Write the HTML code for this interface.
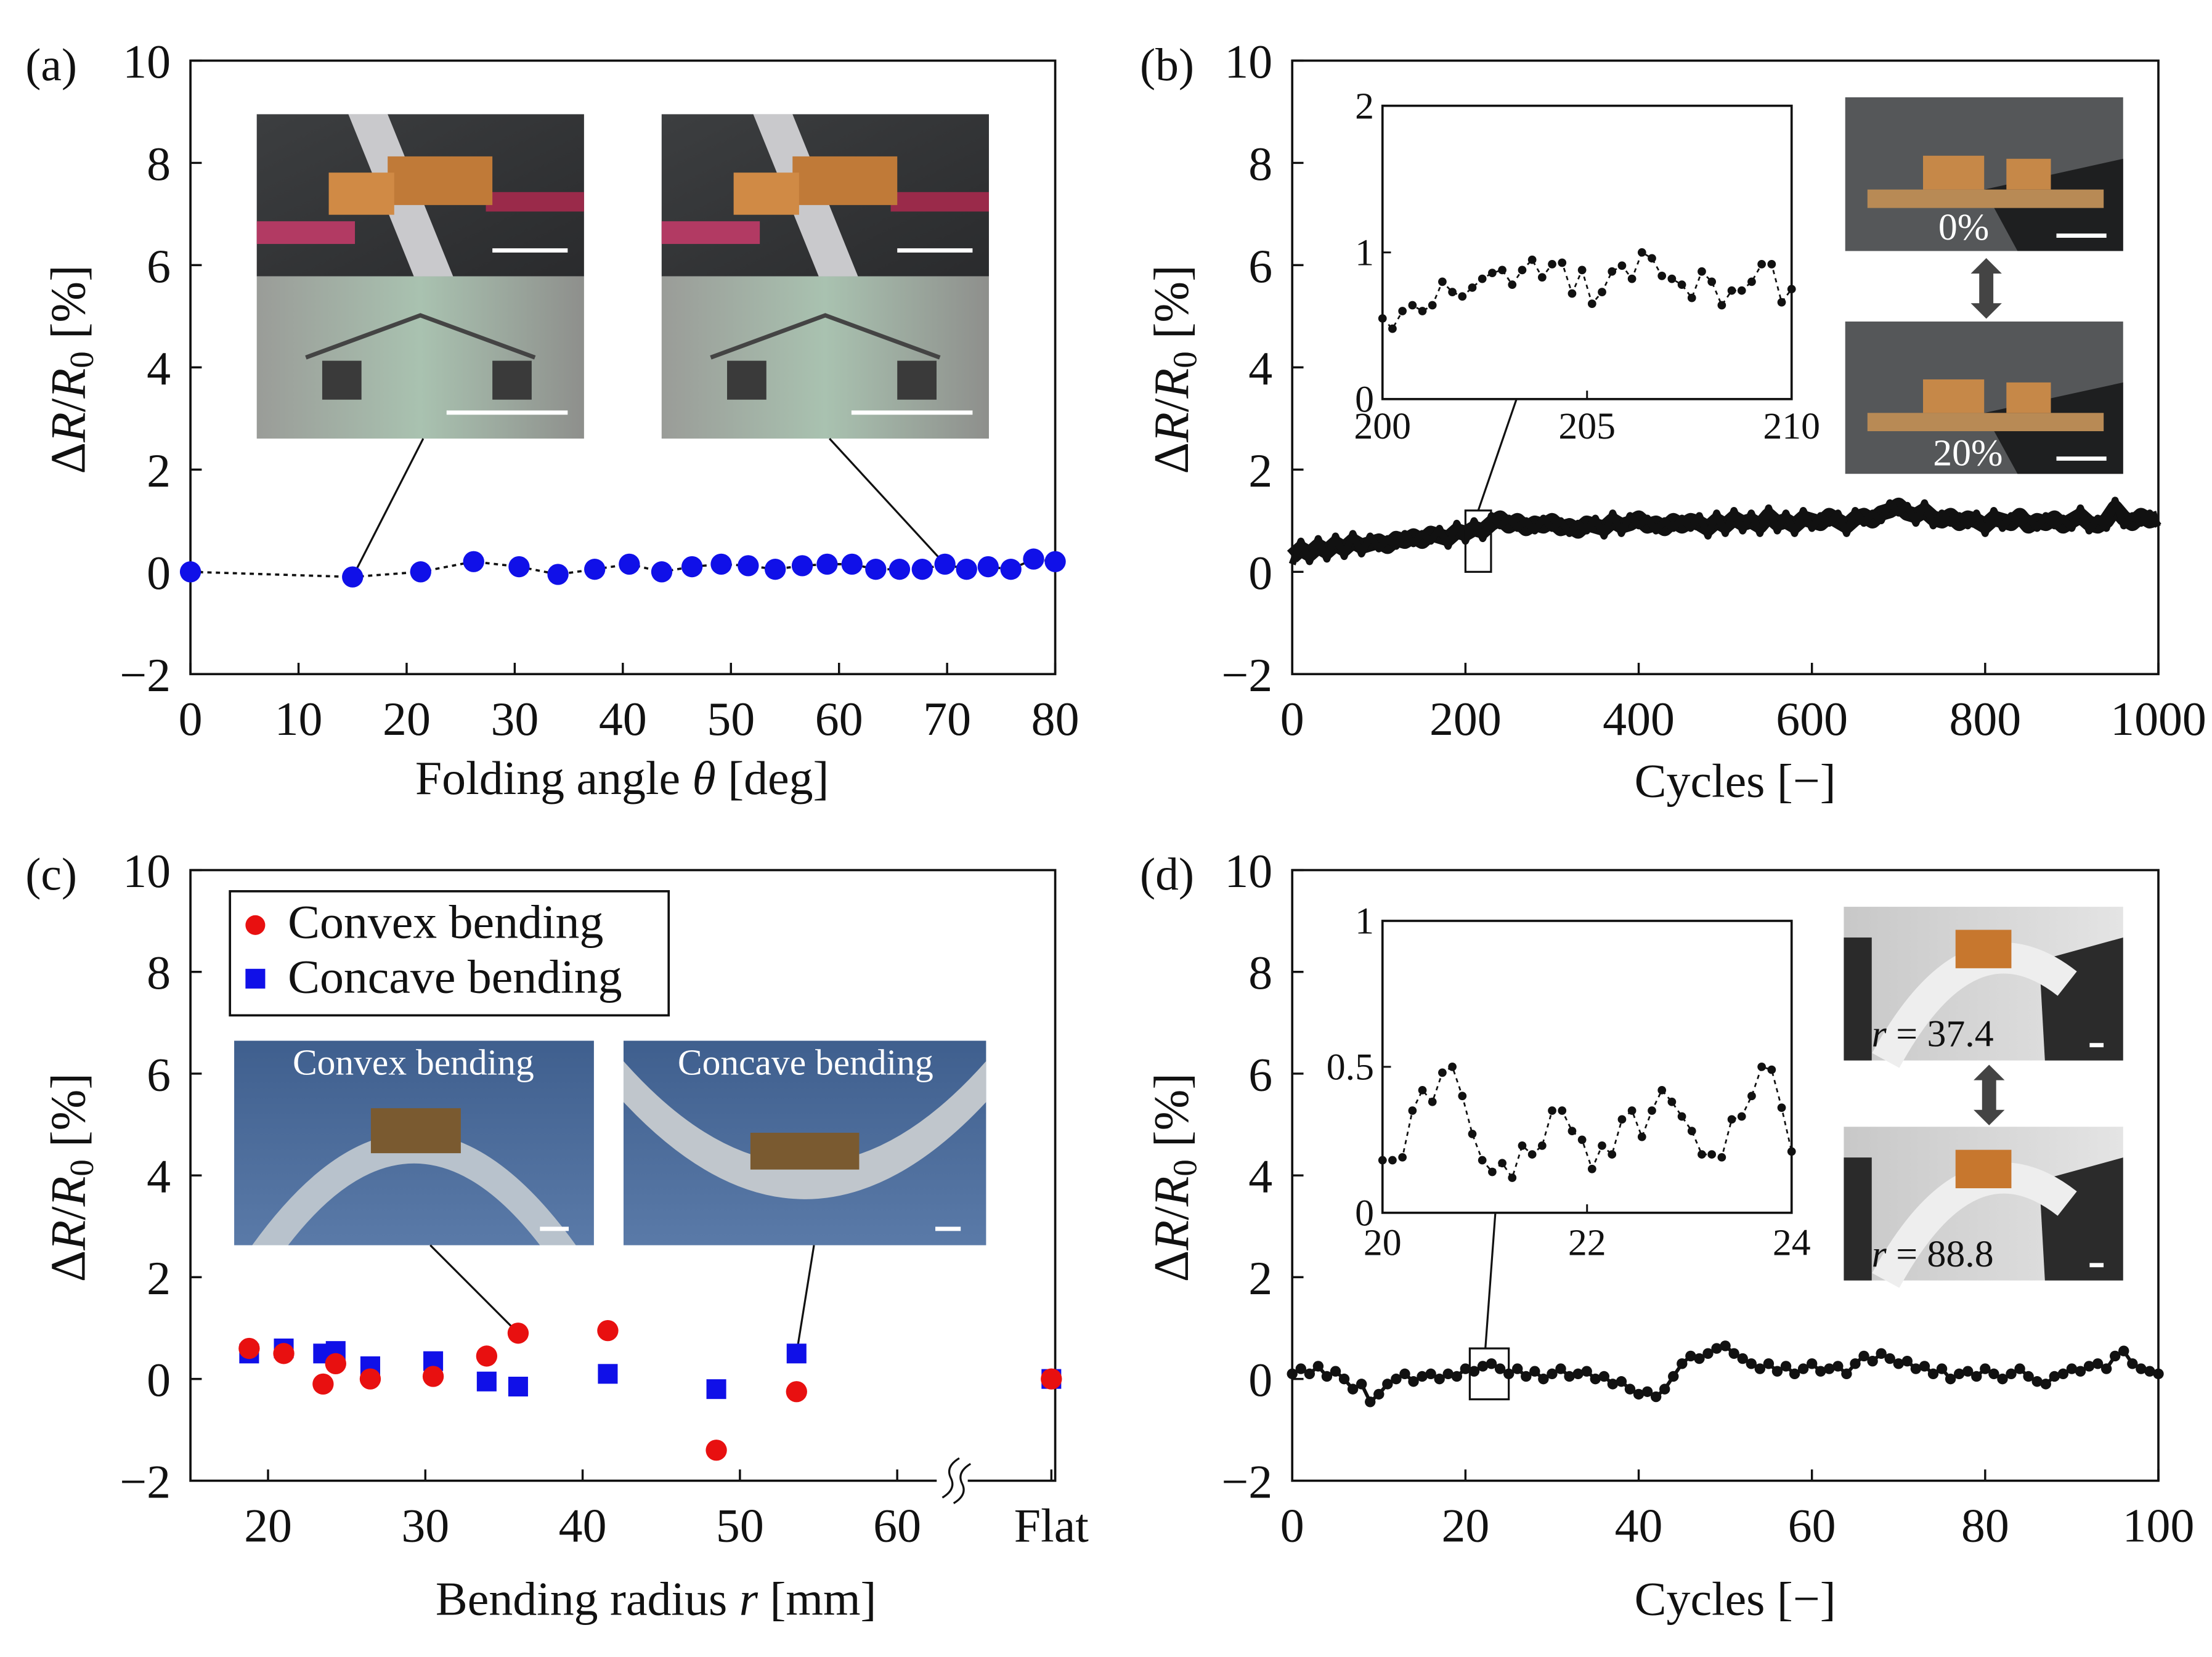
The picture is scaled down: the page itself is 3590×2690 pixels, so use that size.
<!DOCTYPE html>
<html><head><meta charset="utf-8"><style>
html,body{margin:0;padding:0;background:#fff}
svg{display:block}
text{font-family:"Liberation Serif","DejaVu Serif",serif;fill:#111}
</style></head><body>
<svg id="fig" xmlns="http://www.w3.org/2000/svg" width="3590" height="2690" viewBox="0 0 1568 1175" preserveAspectRatio="none">
<defs>
<linearGradient id="gDark" x1="0" y1="0" x2="1" y2="1"><stop offset="0" stop-color="#3c3e40"/><stop offset="1" stop-color="#2a2b2d"/></linearGradient>
<linearGradient id="gSide" x1="0" y1="0" x2="1" y2="0"><stop offset="0" stop-color="#9a9c98"/><stop offset="0.5" stop-color="#a9c2b0"/><stop offset="1" stop-color="#8e8f8c"/></linearGradient>
<linearGradient id="gBlue" x1="0" y1="0" x2="0" y2="1"><stop offset="0" stop-color="#3f5f8e"/><stop offset="1" stop-color="#5a7aa8"/></linearGradient>
<linearGradient id="gGray" x1="0" y1="0" x2="1" y2="0"><stop offset="0" stop-color="#c8c8c8"/><stop offset="1" stop-color="#e4e4e4"/></linearGradient>
</defs>
</svg>
<script>
// ---------- data ----------
const aAngles=[0,15,21.3,26.2,30.4,34,37.4,40.6,43.6,46.4,49.1,51.6,54.1,56.6,58.9,61.2,63.4,65.6,67.7,69.8,71.8,73.8,75.9,78,80];
const aValues=[0,-0.1,0,0.2,0.1,-0.05,0.05,0.15,0.0,0.1,0.15,0.12,0.05,0.12,0.15,0.15,0.05,0.05,0.05,0.15,0.05,0.1,0.05,0.25,0.2];
const bValues=[0.3,0.45,0.35,0.5,0.4,0.55,0.45,0.6,0.5,0.55,0.6,0.5,0.65,0.6,0.7,0.6,0.75,0.7,0.65,0.8,0.75,0.85,0.8,0.95,1.05,0.9,1.0,0.85,0.95,0.9,1.0,0.85,0.9,0.8,0.95,0.9,0.85,1.0,0.9,0.95,1.05,0.9,0.95,0.85,1.0,0.9,1.0,0.95,0.85,1.0,0.9,1.05,0.95,1.0,0.9,1.1,0.95,1.0,0.9,1.05,1.0,0.95,1.1,1.0,0.9,1.05,1.1,1.0,1.15,1.2,1.3,1.15,1.1,1.2,1.05,1.0,1.1,0.95,1.05,1.0,0.9,1.05,1.0,0.95,1.1,0.9,1.0,0.95,1.05,0.9,1.0,1.1,0.95,0.9,1.0,1.25,1.05,0.95,1.1,1.0,1.05];
const bInsetValues=[0.55,0.48,0.6,0.64,0.6,0.64,0.8,0.73,0.7,0.76,0.82,0.86,0.88,0.78,0.88,0.95,0.83,0.92,0.93,0.72,0.88,0.65,0.73,0.87,0.91,0.82,1.0,0.96,0.84,0.82,0.78,0.69,0.87,0.8,0.64,0.74,0.74,0.8,0.92,0.92,0.66,0.75];
const cRadii=[18.8,21,23.5,24.3,26.5,30.5,33.9,35.9,41.6,48.5,53.6,69.8];
const cConvex=[0.6,0.5,-0.1,0.3,0,0.05,0.45,0.9,0.95,-1.4,-0.25,0];
const cConcave=[0.5,0.6,0.5,0.55,0.25,0.35,-0.05,-0.15,0.1,-0.2,0.5,0];
const cTickVals=[20,30,40,50,60,69.8];
const cTickLabels=["20","30","40","50","60","Flat"];
const dValues=[0.1,0.2,0.1,0.25,0.05,0.15,0.0,-0.2,-0.1,-0.45,-0.3,-0.1,0.0,0.1,-0.05,0.05,0.1,0.0,0.1,0.05,0.2,0.15,0.25,0.3,0.2,0.1,0.2,0.05,0.15,0.0,0.1,0.2,0.05,0.1,0.15,0.0,0.05,-0.1,-0.05,-0.2,-0.3,-0.25,-0.35,-0.2,0.05,0.3,0.45,0.4,0.5,0.6,0.65,0.5,0.4,0.3,0.2,0.3,0.15,0.25,0.1,0.2,0.3,0.15,0.2,0.25,0.1,0.3,0.45,0.35,0.5,0.4,0.3,0.35,0.2,0.25,0.1,0.2,0.0,0.1,0.15,0.05,0.2,0.1,0.0,0.1,0.2,0.05,-0.05,-0.1,0.05,0.1,0.2,0.15,0.25,0.3,0.2,0.45,0.55,0.3,0.2,0.15,0.1];
const dInsetValues=[0.18,0.18,0.19,0.35,0.42,0.38,0.48,0.5,0.4,0.27,0.18,0.14,0.17,0.12,0.23,0.2,0.23,0.35,0.35,0.28,0.25,0.15,0.23,0.2,0.32,0.35,0.26,0.35,0.42,0.38,0.33,0.28,0.2,0.2,0.19,0.32,0.33,0.4,0.5,0.49,0.36,0.21];
const yTicks=[-2,0,2,4,6,8,10];

// ---------- helpers ----------
const svg=document.getElementById('fig');
const NS='http://www.w3.org/2000/svg';
function mk(tag,attrs,parent,txt){const e=document.createElementNS(NS,tag);for(const k in attrs)e.setAttribute(k,attrs[k]);if(txt!==undefined)e.textContent=txt;(parent||svg).appendChild(e);return e;}
function scale(d0,d1,r0,r1){return v=>r0+(v-d0)/(d1-d0)*(r1-r0);}
function group(name){const g=mk('g',{});return g;}

function axesFrame(g,L,R,T,B,ys,yt,xs,xt,xtl,fs){
  const fr=mk('rect',{x:L,y:T,width:R-L,height:B-T,fill:'none',stroke:'#111','stroke-width':1.6},g);
  
  yt.forEach(v=>{const y=ys(v);mk('line',{x1:L,x2:L+8,y1:y,y2:y,stroke:'#111','stroke-width':1.5},g);
    const t=mk('text',{x:L-14,y:y+12,'font-size':fs,'text-anchor':'end'},g,v<0?'\u2212'+(-v):String(v));
    });
  xt.forEach((v,i)=>{const x=xs(v);mk('line',{x1:x,x2:x,y1:B,y2:B-8,stroke:'#111','stroke-width':1.5},g);
    const t=mk('text',{x:x,y:B+43,'font-size':fs,'text-anchor':'middle'},g,xtl?xtl[i]:String(v));
    });
}
function yTitle(g,x,y){const t=mk('text',{x:x,y:y,'font-size':35,'text-anchor':'middle',transform:`rotate(-90 ${x} ${y})`},g);
  
  t.innerHTML='\u0394<tspan font-style="italic">R</tspan>/<tspan font-style="italic">R</tspan><tspan font-size="24" dy="6">0</tspan><tspan dy="-6">  [%]</tspan>';}
function xTitle(g,x,y,html){const t=mk('text',{x:x,y:y,'font-size':34,'text-anchor':'middle'},g);t.innerHTML=html;
  }
function panelLabel(g,x,y,s){const t=mk('text',{x:x,y:y,'font-size':33},g,s);}
function photo(g,x,y,w,h,kind,name){
  const p=group(name);g.appendChild(p);
  if(kind==='fold'){
    mk('rect',{x:x,y:y,width:w,height:h/2,fill:'url(#gDark)'},p);
    mk('polygon',{points:`${x+w*0.28},${y} ${x+w*0.4},${y} ${x+w*0.6},${y+h/2} ${x+w*0.48},${y+h/2}`,fill:'#c9c9cc'},p);
    mk('rect',{x:x,y:y+h*0.33,width:w*0.3,height:h*0.07,fill:'#b23a63'},p);
    mk('rect',{x:x+w*0.7,y:y+h*0.24,width:w*0.3,height:h*0.06,fill:'#9a2a4a'},p);
    mk('rect',{x:x+w*0.4,y:y+h*0.13,width:w*0.32,height:h*0.15,fill:'#c07a38'},p);
    mk('rect',{x:x+w*0.22,y:y+h*0.18,width:w*0.2,height:h*0.13,fill:'#d08a45'},p);
    mk('rect',{x:x,y:y+h/2,width:w,height:h/2,fill:'url(#gSide)'},p);
    mk('polyline',{points:`${x+w*0.15},${y+h*0.75} ${x+w*0.5},${y+h*0.62} ${x+w*0.85},${y+h*0.75}`,fill:'none',stroke:'#444','stroke-width':3},p);
    mk('rect',{x:x+w*0.2,y:y+h*0.76,width:w*0.12,height:h*0.12,fill:'#3a3a3a'},p);
    mk('rect',{x:x+w*0.72,y:y+h*0.76,width:w*0.12,height:h*0.12,fill:'#3a3a3a'},p);
    mk('line',{x1:x+w*0.72,x2:x+w*0.95,y1:y+h*0.42,y2:y+h*0.42,stroke:'#fff','stroke-width':3},p);
    mk('line',{x1:x+w*0.58,x2:x+w*0.95,y1:y+h*0.92,y2:y+h*0.92,stroke:'#fff','stroke-width':3},p);
  } else if(kind==='stretch'){
    mk('rect',{x:x,y:y,width:w,height:h,fill:'#555759'},p);
    mk('polygon',{points:`${x+w*0.5},${y+h*0.6} ${x+w},${y+h*0.4} ${x+w},${y+h} ${x+w*0.62},${y+h}`,fill:'#1e1f20'},p);
    mk('rect',{x:x+w*0.08,y:y+h*0.6,width:w*0.85,height:h*0.12,fill:'#b88a55'},p);
    mk('rect',{x:x+w*0.28,y:y+h*0.38,width:w*0.22,height:h*0.22,fill:'#c68848'},p);
    mk('rect',{x:x+w*0.58,y:y+h*0.4,width:w*0.16,height:h*0.2,fill:'#c68848'},p);
    mk('line',{x1:x+w*0.76,x2:x+w*0.94,y1:y+h*0.9,y2:y+h*0.9,stroke:'#fff','stroke-width':3},p);
  } else if(kind==='blue'){
    mk('rect',{x:x,y:y,width:w,height:h,fill:'url(#gBlue)'},p);
    mk('path',{d:`M${x+w*0.05},${y+h} Q${x+w*0.5},${y-h*0.1} ${x+w*0.95},${y+h} L${x+w*0.85},${y+h} Q${x+w*0.5},${y+h*0.2} ${x+w*0.15},${y+h} Z`,fill:'#b8c2cc'},p);
    mk('rect',{x:x+w*0.38,y:y+h*0.33,width:w*0.25,height:h*0.22,fill:'#7a5a30'},p);
    mk('line',{x1:x+w*0.85,x2:x+w*0.93,y1:y+h*0.92,y2:y+h*0.92,stroke:'#fff','stroke-width':3},p);
  } else if(kind==='blue2'){
    mk('rect',{x:x,y:y,width:w,height:h,fill:'url(#gBlue)'},p);
    mk('path',{d:`M${x},${y+h*0.1} Q${x+w*0.5},${y+h*1.1} ${x+w},${y+h*0.1} L${x+w},${y+h*0.3} Q${x+w*0.5},${y+h*1.25} ${x},${y+h*0.3} Z`,fill:'#c0c6cc'},p);
    mk('rect',{x:x+w*0.35,y:y+h*0.45,width:w*0.3,height:h*0.18,fill:'#7a5a30'},p);
    mk('line',{x1:x+w*0.86,x2:x+w*0.93,y1:y+h*0.92,y2:y+h*0.92,stroke:'#fff','stroke-width':3},p);
  } else {
    mk('rect',{x:x,y:y,width:w,height:h,fill:'url(#gGray)'},p);
    mk('rect',{x:x,y:y+h*0.2,width:w*0.1,height:h*0.8,fill:'#2a2a2a'},p);
    mk('polygon',{points:`${x+w*0.7},${y+h*0.35} ${x+w},${y+h*0.2} ${x+w},${y+h} ${x+w*0.72},${y+h}`,fill:'#2b2b2b'},p);
    mk('path',{d:`M${x+w*0.15},${y+h} Q${x+w*0.45},${y} ${x+w*0.8},${y+h*0.5}`,fill:'none',stroke:'#eeeeee','stroke-width':22},p);
    mk('rect',{x:x+w*0.4,y:y+h*0.15,width:w*0.2,height:h*0.25,fill:'#c7772e'},p);
    mk('line',{x1:x+w*0.88,x2:x+w*0.93,y1:y+h*0.9,y2:y+h*0.9,stroke:'#fff','stroke-width':3},p);
  }
  return p;
}
function label(g,x,y,html,fs,fill,name){const t=mk('text',{x:x,y:y,'font-size':fs,fill:fill,'text-anchor':'middle'},g);t.innerHTML=html;t.style.fill=fill;
  }
function dblArrow(g,x,y1,y2){const a=mk('path',{d:`M${x},${y1} l-11,11 h6 v${y2-y1-22} h-6 l11,11 l11,-11 h-6 v${-(y2-y1-22)} h6 z`,fill:'#444'},g);
  }
function connector(g,x1,y1,x2,y2){const l=mk('line',{x1,y1,x2,y2,stroke:'#111','stroke-width':1.4},g);}
function series(g,xs,ys,xv,yv,r,dash,sw,name){
  const pts=xv.map((v,i)=>xs(v)+','+ys(yv[i])).join(' ');
  const pl=mk('polyline',{points:pts,fill:'none',stroke:'#111','stroke-width':sw,'stroke-dasharray':dash,'stroke-linejoin':'round'},g);
  
  return pl;
}

// ---------- panel (a) ----------
{const g=group('panel-a');
 const L=135,R=748,T=43,B=478;const xs=scale(0,80,L,R),ys=scale(-2,10,B,T);
 panelLabel(g,18,57,'(a)');
 photo(g,182,81,232,230,'fold','inset-photo-flat');photo(g,469,81,232,230,'fold','inset-photo-folded');
 connector(g,300,311,xs(aAngles[1]),ys(aValues[1]));connector(g,588,311,xs(aAngles[19]),ys(aValues[19]));
 axesFrame(g,L,R,T,B,ys,yTicks,xs,[0,10,20,30,40,50,60,70,80],null,34);
 series(g,xs,ys,aAngles,aValues,0,'3,3',1.6,'folding');
 aAngles.forEach((v,i)=>{const c=mk('circle',{cx:xs(v),cy:ys(aValues[i]),r:7.5,fill:'#1010e8'},g);
   });
 yTitle(g,60,262);xTitle(g,441,563,'Folding angle <tspan font-style="italic">θ</tspan> [deg]');
}
// ---------- panel (b) ----------
{const g=group('panel-b');
 const L=916,R=1530,T=43,B=478;const xs=scale(0,1000,L,R),ys=scale(-2,10,B,T);
 panelLabel(g,808,57,'(b)');
 const bx=bValues.map((v,i)=>i*1000/(bValues.length-1));
 series(g,xs,ys,bx,bValues,0,'none',11,'cycles-stretch');
 series(g,xs,ys,bx,bValues.map((v,i)=>v+(i%2?0.15:-0.15)),0,'none',5,'cycles-stretch-noise');
 axesFrame(g,L,R,T,B,ys,yTicks,xs,[0,200,400,600,800,1000],null,34);
 const zr=mk('rect',{x:xs(200),y:ys(1.2),width:xs(210)-xs(200)+12,height:ys(0)-ys(1.2),fill:'none',stroke:'#111','stroke-width':1.4},g);
 
 const iL=980,iR=1270,iT=75,iB=283;const ixs=scale(200,210,iL,iR),iys=scale(0,2,iB,iT);
 connector(g,xs(205)+6,ys(1.2),1075,iB);
 const ib=group('inset-b');g.appendChild(ib);
 mk('rect',{x:iL,y:iT,width:iR-iL,height:iB-iT,fill:'#fff',stroke:'#111','stroke-width':1.6},ib);
 [0,1,2].forEach(v=>{mk('line',{x1:iL,x2:iL+6,y1:iys(v),y2:iys(v),stroke:'#111','stroke-width':1.3},ib);
   const t=mk('text',{x:iL-6,y:iys(v)+9,'font-size':27,'text-anchor':'end'},ib,String(v));});
 [200,205,210].forEach(v=>{mk('line',{x1:ixs(v),x2:ixs(v),y1:iB,y2:iB-6,stroke:'#111','stroke-width':1.3},ib);
   const t=mk('text',{x:ixs(v),y:iB+28,'font-size':27,'text-anchor':'middle'},ib,String(v));});
 const ibx=bInsetValues.map((v,i)=>200+i*10/(bInsetValues.length-1));
 series(ib,ixs,iys,ibx,bInsetValues,0,'3,3',1.2,'inset-b');
 ibx.forEach((v,i)=>{const c=mk('circle',{cx:ixs(v),cy:iys(bInsetValues[i]),r:3,fill:'#111'},ib);});
 photo(g,1308,69,197,109,'stretch','photo-strain-0');photo(g,1308,228,197,108,'stretch','photo-strain-20');
 label(g,1392,170,'0%',27,'#fff','strain-label-0');label(g,1395,330,'20%',27,'#fff','strain-label-20');
 dblArrow(g,1408,183,226);
 yTitle(g,842,262);xTitle(g,1230,565,'Cycles [\u2212]');
}
// ---------- panel (c) ----------
{const g=group('panel-c');
 const L=135,R=748,T=617,B=1050;const xs=scale(20,60,190,636),ys=scale(-2,10,B,T);
 panelLabel(g,18,631,'(c)');
 photo(g,166,738,255,145,'blue','photo-convex');photo(g,442,738,257,145,'blue2','photo-concave');
 label(g,293,762,'Convex bending',26,'#fff','photo-convex-label');label(g,571,762,'Concave bending',26,'#fff','photo-concave-label');
 connector(g,305,883,xs(cRadii[7]),ys(cConvex[7]));connector(g,577,883,xs(cRadii[10]),ys(cConcave[10]));
 axesFrame(g,L,R,T,B,ys,yTicks,xs,cTickVals,cTickLabels,34);
 mk('rect',{x:664,y:1040,width:22,height:20,fill:'#fff'},g);
 const br=mk('path',{d:'M668,1062 q10,-6 6,-14 q-4,-8 6,-14 M676,1066 q10,-6 6,-14 q-4,-8 6,-14',fill:'none',stroke:'#111','stroke-width':1.4},g);
 
 cRadii.forEach((v,i)=>{const s=mk('rect',{x:xs(v)-7,y:ys(cConcave[i])-7,width:14,height:14,fill:'#1010e8'},g);
   });
 cRadii.forEach((v,i)=>{const c=mk('circle',{cx:xs(v),cy:ys(cConvex[i]),r:7.5,fill:'#e81010'},g);
   });
 const lg=group('legend');g.appendChild(lg);
 mk('rect',{x:163,y:632,width:311,height:88,fill:'#fff',stroke:'#111','stroke-width':1.6},lg);
 mk('circle',{cx:181,cy:656,r:7,fill:'#e81010'},lg);mk('rect',{x:174,y:687,width:14,height:14,fill:'#1010e8'},lg);
 const l1=mk('text',{x:204,y:665,'font-size':34},lg,'Convex bending');
 const l2=mk('text',{x:204,y:704,'font-size':34},lg,'Concave bending');
 yTitle(g,60,835);xTitle(g,465,1145,'Bending radius <tspan font-style="italic">r</tspan>  [mm]');
}
// ---------- panel (d) ----------
{const g=group('panel-d');
 const L=916,R=1530,T=617,B=1050;const xs=scale(0,100,L,R),ys=scale(-2,10,B,T);
 panelLabel(g,808,631,'(d)');
 const dx=dValues.map((v,i)=>i*100/(dValues.length-1));
 series(g,xs,ys,dx,dValues,0,'none',2.5,'cycles-bend');
 dx.forEach((v,i)=>{const c=mk('circle',{cx:xs(v),cy:ys(dValues[i]),r:3.8,fill:'#111'},g);});
 axesFrame(g,L,R,T,B,ys,yTicks,xs,[0,20,40,60,80,100],null,34);
 const zr=mk('rect',{x:xs(20.5),y:ys(0.6),width:xs(25)-xs(20.5),height:ys(-0.4)-ys(0.6),fill:'none',stroke:'#111','stroke-width':1.4},g);
 
 const iL=980,iR=1270,iT=653,iB=860;const ixs=scale(20,24,iL,iR),iys=scale(0,1,iB,iT);
 connector(g,xs(22.3),ys(0.6),1060,iB);
 const ib=group('inset-d');g.appendChild(ib);
 mk('rect',{x:iL,y:iT,width:iR-iL,height:iB-iT,fill:'#fff',stroke:'#111','stroke-width':1.6},ib);
 [0,0.5,1].forEach(v=>{mk('line',{x1:iL,x2:iL+6,y1:iys(v),y2:iys(v),stroke:'#111','stroke-width':1.3},ib);
   const t=mk('text',{x:iL-6,y:iys(v)+9,'font-size':27,'text-anchor':'end'},ib,String(v));});
 [20,22,24].forEach(v=>{mk('line',{x1:ixs(v),x2:ixs(v),y1:iB,y2:iB-6,stroke:'#111','stroke-width':1.3},ib);
   const t=mk('text',{x:ixs(v),y:iB+30,'font-size':27,'text-anchor':'middle'},ib,String(v));});
 const idx=dInsetValues.map((v,i)=>20+i*4/(dInsetValues.length-1));
 series(ib,ixs,iys,idx,dInsetValues,0,'3,3',1.2,'inset-d');
 idx.forEach((v,i)=>{const c=mk('circle',{cx:ixs(v),cy:iys(dInsetValues[i]),r:3,fill:'#111'},ib);});
 photo(g,1307,643,198,109,'gray','photo-r-37');photo(g,1307,799,198,109,'gray','photo-r-88');
 label(g,1370,742,'<tspan font-style="italic">r</tspan> = 37.4',27,'#111','radius-label-37');label(g,1370,898,'<tspan font-style="italic">r</tspan> = 88.8',27,'#111','radius-label-88');
 dblArrow(g,1410,755,798);
 yTitle(g,842,835);xTitle(g,1230,1145,'Cycles [\u2212]');
}
</script>
</body></html>
